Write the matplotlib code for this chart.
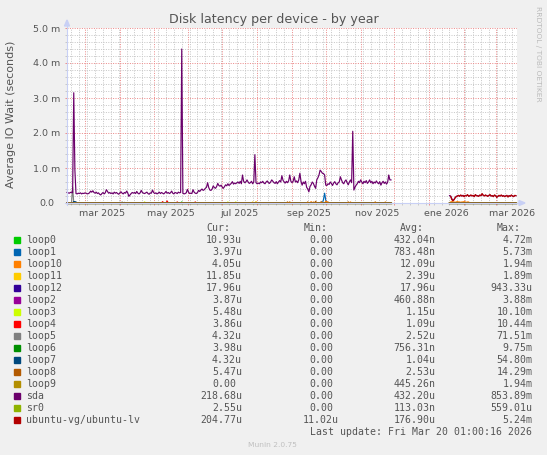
import numpy as np
import matplotlib
matplotlib.use("Agg")
import matplotlib.pyplot as plt
import matplotlib.dates as mdates
from matplotlib.ticker import MultipleLocator
from matplotlib.patches import Rectangle, Polygon
from matplotlib.lines import Line2D
from matplotlib.transforms import blended_transform_factory
from datetime import datetime

W, H = 547, 455

# munin "by year": one value per day, 400 days
start = datetime(2025, 2, 13, 1, 0)
end = datetime(2026, 3, 20, 1, 0)
n_days = 400
part1_end = 289      # data for days 0..288
part2_start = 340    # data again from day 340 on (nothing in between)

devices = ["loop0", "loop1", "loop10", "loop11", "loop12", "loop2", "loop3", "loop4",
           "loop5", "loop6", "loop7", "loop8", "loop9", "sda", "sr0", "ubuntu-vg/ubuntu-lv"]
colors = ["#00CC00", "#0066B3", "#FF8000", "#FFCC00", "#330099", "#990099", "#CCFF00", "#FF0000",
          "#808080", "#008F00", "#00487D", "#B35A00", "#B38F00", "#6B006B", "#8FB300", "#B30000"]
cur_vals = ["10.93u", "3.97u", "4.05u", "11.85u", "17.96u", "3.87u", "5.48u", "3.86u",
            "4.32u", "3.98u", "4.32u", "5.47u", "0.00", "218.68u", "2.55u", "204.77u"]
min_vals = ["0.00"] * 15 + ["11.02u"]
avg_vals = ["432.04n", "783.48n", "12.09u", "2.39u", "17.96u", "460.88n", "1.15u", "1.09u",
            "2.52u", "756.31n", "1.04u", "2.53u", "445.26n", "432.20u", "113.03n", "176.90u"]
max_vals = ["4.72m", "5.73m", "1.94m", "1.89m", "943.33u", "3.88m", "10.10m", "10.44m",
            "71.51m", "9.75m", "54.80m", "14.29m", "1.94m", "853.89m", "559.01u", "5.24m"]

# sda average IO wait in ms, days 0..288
sda_2025 = [
    0.30, 0.29, 0.28, 0.30, 0.31, 0.29, 3.15, 0.95, 0.27, 0.26,
    0.28, 0.27, 0.29, 0.26, 0.28, 0.27, 0.29, 0.28, 0.26, 0.27,
    0.29, 0.34, 0.31, 0.35, 0.30, 0.28, 0.31, 0.27, 0.29, 0.25,
    0.23, 0.27, 0.30, 0.26, 0.29, 0.38, 0.33, 0.28, 0.30, 0.27,
    0.29, 0.26, 0.31, 0.28, 0.30, 0.27, 0.25, 0.29, 0.32, 0.28,
    0.26, 0.30, 0.28, 0.34, 0.29, 0.19, 0.23, 0.27, 0.30, 0.28,
    0.30, 0.27, 0.33, 0.28, 0.26, 0.29, 0.36, 0.30, 0.28, 0.27,
    0.29, 0.31, 0.27, 0.25, 0.29, 0.28, 0.37, 0.30, 0.27, 0.29,
    0.26, 0.28, 0.31, 0.27, 0.30, 0.28, 0.26, 0.29, 0.33, 0.28,
    0.30, 0.27, 0.29, 0.34, 0.28, 0.26, 0.30, 0.29, 0.27, 0.31,
    0.29, 0.30, 4.40, 0.28, 0.26, 0.27, 0.29, 0.39, 0.31, 0.27,
    0.28, 0.27, 0.38, 0.31, 0.28, 0.27, 0.30, 0.36, 0.33, 0.37,
    0.40, 0.36, 0.38, 0.42, 0.45, 0.58, 0.44, 0.37, 0.36, 0.40,
    0.49, 0.44, 0.42, 0.47, 0.56, 0.50, 0.48, 0.51, 0.45, 0.42,
    0.47, 0.52, 0.49, 0.55, 0.50, 0.53, 0.56, 0.61, 0.54, 0.57,
    0.55, 0.58, 0.60, 0.56, 0.62, 0.55, 0.80, 0.62, 0.58, 0.60,
    0.66, 0.60, 0.56, 0.58, 0.62, 0.55, 0.60, 1.38, 0.58, 0.55,
    0.57, 0.55, 0.60, 0.58, 0.62, 0.57, 0.55, 0.60, 0.63, 0.58,
    0.56, 0.60, 0.66, 0.62, 0.58, 0.56, 0.61, 0.55, 0.60, 0.64,
    0.60, 0.78, 0.65, 0.60, 0.57, 0.62, 0.58, 0.63, 0.80, 0.62,
    0.58, 0.62, 0.75, 0.60, 0.63, 0.58, 0.66, 0.85, 0.62, 0.51,
    0.60, 0.55, 0.62, 0.45, 0.40, 0.32, 0.47, 0.52, 0.60, 0.56,
    0.48, 0.42, 0.66, 0.72, 0.80, 0.94, 0.90, 0.85, 0.84, 0.80,
    0.51, 0.50, 0.55, 0.53, 0.60, 0.56, 0.50, 0.57, 0.61, 0.55,
    0.52, 0.58, 0.60, 0.75, 0.66, 0.58, 0.55, 0.62, 0.66, 0.58,
    0.52, 0.60, 0.66, 0.58, 2.05, 0.37, 0.45, 0.51, 0.55, 0.62,
    0.58, 0.66, 0.60, 0.55, 0.62, 0.58, 0.64, 0.56, 0.60, 0.66,
    0.58, 0.62, 0.55, 0.60, 0.57, 0.63, 0.58, 0.55, 0.61, 0.51,
    0.58, 0.62, 0.56, 0.60, 0.54, 0.59, 0.80, 0.66, 0.66,
]
# days 340..399
sda_2026 = [
    0.21, 0.20, 0.13, 0.07, 0.10, 0.15, 0.19, 0.20, 0.21, 0.20,
    0.22, 0.20, 0.22, 0.19, 0.21, 0.21, 0.23, 0.20, 0.20, 0.22,
    0.21, 0.21, 0.19, 0.23, 0.21, 0.21, 0.20, 0.22, 0.21, 0.25,
    0.22, 0.21, 0.22, 0.21, 0.20, 0.21, 0.23, 0.20, 0.21, 0.19,
    0.22, 0.21, 0.17, 0.19, 0.21, 0.20, 0.22, 0.20, 0.21, 0.19,
    0.20, 0.21, 0.18, 0.21, 0.20, 0.22, 0.20, 0.19, 0.21, 0.21,
]
# days 341..399
lv_2026 = [
    0.19, 0.10, 0.06, 0.09, 0.15, 0.18, 0.20, 0.22, 0.19,
    0.23, 0.20, 0.21, 0.18, 0.22, 0.20, 0.24, 0.19, 0.21, 0.23,
    0.20, 0.22, 0.18, 0.24, 0.21, 0.20, 0.19, 0.23, 0.21, 0.27,
    0.22, 0.20, 0.23, 0.21, 0.19, 0.22, 0.24, 0.20, 0.21, 0.18,
    0.23, 0.21, 0.16, 0.19, 0.22, 0.20, 0.23, 0.19, 0.21, 0.18,
    0.20, 0.22, 0.17, 0.21, 0.19, 0.23, 0.20, 0.18, 0.22, 0.21,
]
# days 341..357
loop10_2026 = [0.03, 0.04, 0.03, 0.03, 0.02, 0.03, 0.04, 0.03, 0.03,
               0.02, 0.03, 0.03, 0.04, 0.03, 0.02, 0.03, 0.03]

# the loop devices stay at zero apart from a few small bumps {day: ms}
loop_bumps = {
    "loop0": {102: 0.03},
    "loop1": {228: 0.10, 229: 0.28, 230: 0.08},
    "loop10": {217: 0.04, 219: 0.03, 230: 0.05, 231: 0.04, 252: 0.03, 283: 0.03},
    "loop11": {165: 0.03, 168: 0.04},
    "loop3": {69: 0.03, 143: 0.03, 150: 0.03},
    "loop4": {85: 0.04, 89: 0.06, 98: 0.03, 114: 0.03},
    "loop5": {5: 0.45, 47: 0.02, 49: 0.03, 51: 0.02},
    "loop7": {6: 0.04, 7: 0.04, 8: 0.03},
    "loop8": {196: 0.03, 198: 0.03, 214: 0.03, 221: 0.05, 226: 0.04, 232: 0.03,
              250: 0.03, 274: 0.03},
}

ytick_vals = [0, 1, 2, 3, 4, 5]
ytick_text = ["0.0", "1.0 m", "2.0 m", "3.0 m", "4.0 m", "5.0 m"]
xlabel_dates = [datetime(2025, 3, 16), datetime(2025, 5, 16), datetime(2025, 7, 16),
                datetime(2025, 9, 16), datetime(2025, 11, 16), datetime(2026, 1, 16),
                datetime(2026, 3, 16)]
xlabel_text = ["mar 2025", "may 2025", "jul 2025", "sep 2025", "nov 2025", "ene 2026", "mar 2026"]


def build(name):
    y = np.full(n_days, np.nan)
    if name == "ubuntu-vg/ubuntu-lv":
        y[341:] = lv_2026
        return y
    y[:part1_end] = 0.0
    y[part2_start:] = 0.0
    if name == "sda":
        y[:part1_end] = sda_2025
        y[part2_start:] = sda_2026
    if name == "loop10":
        y[341:341 + len(loop10_2026)] = loop10_2026
    for d, v in loop_bumps.get(name, {}).items():
        y[d] = v
    return y


FONT = "#555555"
AXIS = "#C8D0F5"
MGRID = "#EC8C8C"
GRID = "#C8C8C8"

fig = plt.figure(figsize=(W / 100, H / 100), dpi=100, facecolor="#F0F0F0")
left, right, top, bottom = 67, 517, 28, 203
ax = fig.add_axes([left / W, 1 - bottom / H, (right - left) / W, (bottom - top) / H])
ax.set_facecolor("white")
for s in ax.spines.values():
    s.set_visible(False)

t0 = mdates.date2num(start)
x = t0 + np.arange(n_days)
for name, col in zip(devices, colors):
    ax.plot(x, build(name), color=col, lw=0.85, clip_on=False, zorder=3)

ax.set_xlim(t0, mdates.date2num(end))
ax.set_ylim(0, 5)

ax.xaxis.set_major_locator(mdates.MonthLocator())
ax.xaxis.set_minor_locator(mdates.WeekdayLocator(byweekday=mdates.MO))
ax.set_yticks(ytick_vals)
ax.yaxis.set_minor_locator(MultipleLocator(0.2))
ax.tick_params(labelbottom=False, labelleft=False)
ax.tick_params(which="major", direction="out", length=1.5, width=0.7, color=MGRID)
ax.tick_params(which="minor", direction="out", length=1.5, width=0.7, color=GRID)
ax.grid(which="minor", color=GRID, linestyle=(0, (1, 1.4)), lw=0.72)
ax.grid(which="major", color=MGRID, linestyle=(0, (1, 1.4)), lw=0.72)
ax.set_axisbelow(True)

# y labels (unit-less label sits a bit further left, as rrdtool does)
ytr = blended_transform_factory(fig.transFigure, ax.transData)
for v, t in zip(ytick_vals, ytick_text):
    xr = 60.7 if t.endswith("m") else 54.0
    ax.text(xr / W, v, t, transform=ytr, ha="right", va="center_baseline",
            fontsize=6.8, color=FONT)

xtr = blended_transform_factory(ax.transData, fig.transFigure)
for d, t in zip(xlabel_dates, xlabel_text):
    ax.text(mdates.date2num(d), 1 - 216.5 / H, t, transform=xtr, ha="center",
            va="baseline", fontsize=6.8, color=FONT)

# axes with arrows
ft = fig.transFigure
def fx(px):
    return px / W
def fy(py):
    return 1 - py / H

fig.add_artist(Line2D([fx(65), fx(519)], [fy(203), fy(203)], color=AXIS, lw=0.8,
                      transform=ft, zorder=2.5))
fig.add_artist(Line2D([fx(67), fx(67)], [fy(205), fy(25)], color=AXIS, lw=0.8,
                      transform=ft, zorder=2.5))
fig.add_artist(Polygon([[fx(519), fy(200.5)], [fx(525), fy(203)], [fx(519), fy(205.5)]],
                       closed=True, color=AXIS, transform=ft))
fig.add_artist(Polygon([[fx(64.5), fy(26)], [fx(67), fy(20)], [fx(69.5), fy(26)]],
                       closed=True, color=AXIS, transform=ft))

fig.text(273.7 / W, fy(23), "Disk latency per device - by year", ha="center",
         va="baseline", fontsize=9.1, color=FONT)
fig.text(11 / W, fy(114), "Average IO Wait (seconds)", rotation=90, ha="center",
         va="center", fontsize=8, color=FONT)
fig.text(538 / W, fy(53.5), "RRDTOOL / TOBI OETIKER", rotation=270, ha="center",
         va="center", fontsize=5.4, color="#BBBBBB")

# legend
mono = "DejaVu Sans Mono"
msize = 7.1
cw = 5.95
col_end = [242.0, 339.0, 435.5, 532.4]
headers = ["Cur:", "Min:", "Avg:", "Max:"]
for h, e in zip(headers, col_end):
    fig.text(fx(e - 6 * cw), fy(231.3), h, family=mono, fontsize=msize, color=FONT,
             ha="left", va="baseline")

for i, name in enumerate(devices):
    yb = 243.3 + 12 * i
    fig.patches.append(Rectangle((fx(14), fy(yb - 0.3)), 6 / W, 6 / H, color=colors[i],
                                 transform=ft, figure=fig))
    fig.text(fx(26), fy(yb), name, family=mono, fontsize=msize, color=FONT,
             ha="left", va="baseline")
    for vals, e in zip([cur_vals, min_vals, avg_vals, max_vals], col_end):
        v = vals[i]
        xr = e if v[-1].isalpha() else e - cw
        fig.text(fx(xr), fy(yb), v, family=mono, fontsize=msize, color=FONT,
                 ha="right", va="baseline")

fig.text(fx(532.4), fy(435.3), "Last update: Fri Mar 20 01:00:16 2026", family=mono,
         fontsize=msize, color=FONT, ha="right", va="baseline")
fig.text(fx(272.5), fy(447.3), "Munin 2.0.75", fontsize=5.4, color="#C0C0C0",
         ha="center", va="baseline")

fig.savefig("out.png", dpi=100, facecolor=fig.get_facecolor())
